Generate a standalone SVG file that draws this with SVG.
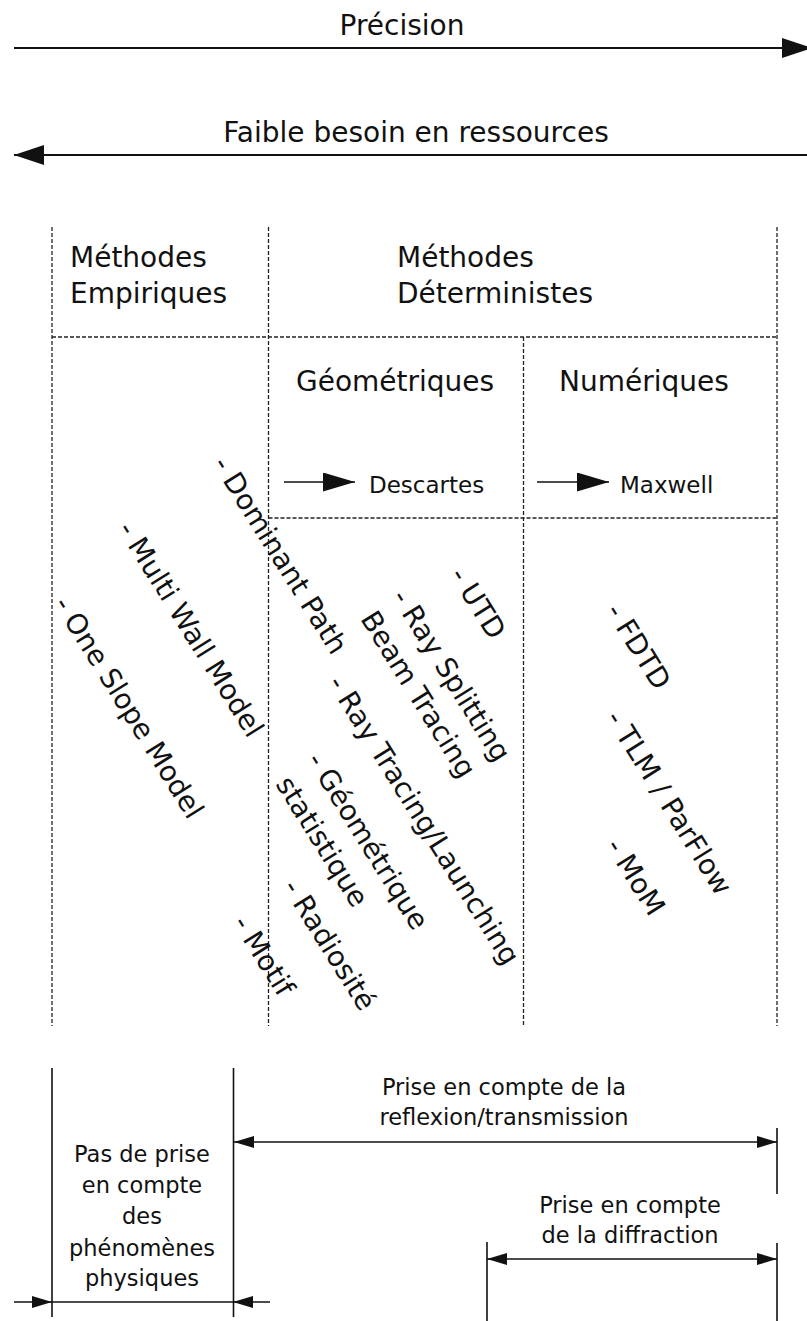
<svg xmlns="http://www.w3.org/2000/svg" width="807" height="1321" viewBox="0 0 807 1321">
<defs>
<style>
.t{font-family:"DejaVu Sans","Liberation Sans",sans-serif;fill:#111}
.big{font-size:28px}
.med{font-size:22.5px}
.mid{font-size:23px}
.rot{font-size:28px}
.dash{stroke:#222;stroke-width:1.3;stroke-dasharray:4 2;fill:none}
.sol{stroke:#111;stroke-width:1.6;fill:none}
.axis{stroke:#111;stroke-width:2;fill:none}
</style>
<marker id="ahBig" markerUnits="userSpaceOnUse" viewBox="0 0 30 20" markerWidth="30" markerHeight="20" refX="30" refY="10" orient="auto-start-reverse"><path d="M0,0 L30,10 L0,20 z" fill="#111"/></marker>
<marker id="ahMid" markerUnits="userSpaceOnUse" viewBox="0 0 32 19" markerWidth="32" markerHeight="19" refX="32" refY="9.5" orient="auto-start-reverse"><path d="M0,0 L32,9.5 L0,19 z" fill="#111"/></marker>
<marker id="ahSm" markerUnits="userSpaceOnUse" viewBox="0 0 20 12" markerWidth="20" markerHeight="12" refX="20" refY="6" orient="auto-start-reverse"><path d="M0,0 L20,6 L0,12 z" fill="#111"/></marker>
</defs>
<rect width="807" height="1321" fill="#fff"/>

<g id="connectors">
  <path class="axis" d="M14,48 L812,48" marker-end="url(#ahBig)"/>
  <path class="axis" d="M807,155 L14,155" marker-end="url(#ahBig)"/>
  <path class="sol" d="M284,482 L355,482" marker-end="url(#ahMid)"/>
  <path class="sol" d="M537,482 L609,482" marker-end="url(#ahMid)"/>
  <path class="sol" d="M234,1142 L777,1142" marker-start="url(#ahSm)" marker-end="url(#ahSm)"/>
  <path class="sol" d="M487,1259 L777,1259" marker-start="url(#ahSm)" marker-end="url(#ahSm)"/>
  <path class="sol" d="M14,1302 L52,1302" marker-end="url(#ahSm)"/>
  <path class="sol" d="M52,1302 L233,1302"/>
  <path class="sol" d="M270,1302 L233,1302" marker-end="url(#ahSm)"/>
</g>

<g id="grid">
  <line class="dash" x1="52" y1="227" x2="52" y2="1026"/>
  <line class="dash" x1="268.5" y1="227" x2="268.5" y2="1026"/>
  <line class="dash" x1="777" y1="227" x2="777" y2="1026"/>
  <line class="dash" x1="523.5" y1="337" x2="523.5" y2="1026"/>
  <line class="dash" x1="52" y1="337" x2="777" y2="337"/>
  <line class="dash" x1="268.5" y1="518" x2="777" y2="518"/>
</g>

<g id="bottom-lines">
  <line class="sol" x1="52" y1="1068" x2="52" y2="1317"/>
  <line class="sol" x1="233.5" y1="1068" x2="233.5" y2="1317"/>
  <line class="sol" x1="777" y1="1128" x2="777" y2="1194"/>
  <line class="sol" x1="777" y1="1243" x2="777" y2="1321"/>
  <line class="sol" x1="487" y1="1242" x2="487" y2="1321"/>
</g>

<g id="precision"><text class="t big" x="402" y="35" text-anchor="middle">Précision</text></g>
<g id="faible"><text class="t big" x="416" y="142" text-anchor="middle">Faible besoin en ressources</text></g>

<g id="empiriques"><text class="t big" x="70" y="267">Méthodes<tspan x="70" dy="36">Empiriques</tspan></text></g>
<g id="deterministes"><text class="t big" x="397" y="267">Méthodes<tspan x="397" dy="36">Déterministes</tspan></text></g>
<g id="geometriques"><text class="t big" x="296" y="391">Géométriques</text></g>
<g id="numeriques"><text class="t big" x="559" y="391">Numériques</text></g>
<g id="descartes"><text class="t mid" x="369" y="493">Descartes</text></g>
<g id="maxwell"><text class="t mid" x="620" y="493">Maxwell</text></g>

<g id="empirical-methods">
  <text class="t rot" transform="translate(212,464) rotate(58)">- Dominant Path</text>
  <text class="t rot" transform="translate(117,529) rotate(58)">- Multi Wall Model</text>
  <text class="t rot" transform="translate(53,604) rotate(58)">- One Slope Model</text>
  <text class="t rot" transform="translate(232,923) rotate(58)">- Motif</text>
</g>
<g id="geometric-methods">
  <text class="t rot" transform="translate(449,575) rotate(58)">- UTD</text>
  <text class="t rot" transform="translate(391,597) rotate(58)">- Ray Splitting<tspan x="2" dy="38">Beam Tracing</tspan></text>
  <text class="t rot" transform="translate(327,683) rotate(58)">- Ray Tracing/Launching</text>
  <text class="t rot" transform="translate(306,760) rotate(58)">- Géométrique<tspan x="4" dy="39">statistique</tspan></text>
  <text class="t rot" transform="translate(282,887) rotate(58)">- Radiosité</text>
</g>
<g id="numeric-methods">
  <text class="t rot" transform="translate(605,611) rotate(58)">- FDTD</text>
  <text class="t rot" transform="translate(605,718) rotate(58)">- TLM / ParFlow</text>
  <text class="t rot" transform="translate(605,846) rotate(58)">- MoM</text>
</g>

<g id="reflexion"><text class="t med" x="504" y="1095" text-anchor="middle">Prise en compte de la<tspan x="504" dy="30">reflexion/transmission</tspan></text></g>
<g id="diffraction"><text class="t med" x="630" y="1213" text-anchor="middle">Prise en compte<tspan x="630" dy="30">de la diffraction</tspan></text></g>
<g id="pas-de-prise"><text class="t med" x="142" y="1162" text-anchor="middle">Pas de prise<tspan x="142" dy="30.5">en compte</tspan><tspan x="142" dy="31.5">des</tspan><tspan x="142" dy="31.5">phénomènes</tspan><tspan x="142" dy="30.5">physiques</tspan></text></g>
</svg>
